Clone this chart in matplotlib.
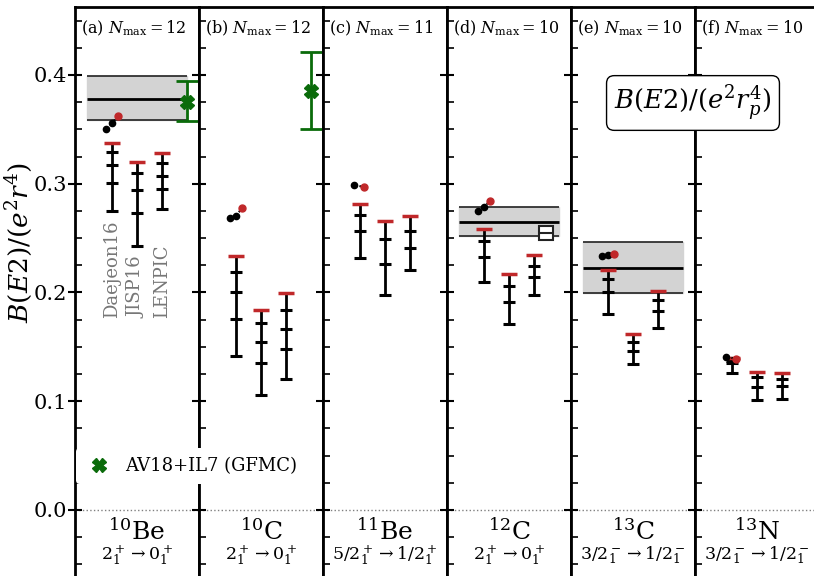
import matplotlib
matplotlib.use('Agg')
import matplotlib.pyplot as plt
from matplotlib.lines import Line2D
from matplotlib.ticker import MultipleLocator

plt.rcParams['font.family'] = 'DejaVu Serif'
plt.rcParams['mathtext.fontset'] = 'dejavuserif'

letters = ['a', 'b', 'c', 'd', 'e', 'f']
nmax = [12, 12, 11, 10, 10, 10]
nuclei = [r'$^{10}$Be', r'$^{10}$C', r'$^{11}$Be', r'$^{12}$C', r'$^{13}$C', r'$^{13}$N']
transitions = [r'$2^+_1\rightarrow 0^+_1$', r'$2^+_1\rightarrow 0^+_1$',
               r'$5/2^+_1\rightarrow 1/2^+_1$', r'$2^+_1\rightarrow 0^+_1$',
               r'$3/2^-_1\rightarrow 1/2^-_1$', r'$3/2^-_1\rightarrow 1/2^-_1$']

# first value = highest Nmax (red cap), then lower ones, last = bottom of bar
daejeon16 = [
    [0.3378, 0.3289, 0.3170, 0.3004, 0.2752],
    [0.2336, 0.2191, 0.2007, 0.1756, 0.1416],
    [0.2814, 0.2716, 0.2562, 0.2317],
    [0.2581, 0.2474, 0.2324, 0.2094],
    [0.2204, 0.2124, 0.2002, 0.1802],
    [0.1395, 0.1368, 0.1350, 0.1257],
]
jisp16 = [
    [0.3203, 0.3096, 0.2943, 0.2728, 0.2431],
    [0.1839, 0.1717, 0.1548, 0.1354, 0.1057],
    [0.2655, 0.2489, 0.2265, 0.1977],
    [0.2170, 0.2060, 0.1913, 0.1710],
    [0.1615, 0.1542, 0.1459, 0.1340],
    [0.1266, 0.1220, 0.1134, 0.1014],
]
lenpic = [
    [0.3280, 0.3188, 0.3074, 0.2949, 0.2765],
    [0.1992, 0.1839, 0.1661, 0.1480, 0.1205],
    [0.2700, 0.2566, 0.2412, 0.2204],
    [0.2342, 0.2247, 0.2143, 0.1974],
    [0.2011, 0.1928, 0.1830, 0.1674],
    [0.1257, 0.1202, 0.1137, 0.1023],
]

# ratio-based estimates (black ... red)
ratio_y = [
    [0.3501, 0.3556, 0.3623],
    [0.2688, 0.2700, 0.2780],
    [0.2989, 0.2970],
    [0.2749, 0.2789, 0.2841],
    [0.2339, 0.2348, 0.2357],
    [0.1410, 0.1391],
]

# experiment: center, low, high
exp_val = [0.3776, None, None, 0.2651, 0.2228, None]
exp_lo = [0.3586, None, None, 0.2520, 0.1992, None]
exp_hi = [0.3994, None, None, 0.2783, 0.2461, None]

gfmc_val = [0.3754, 0.3856, None, None, None, None]
gfmc_lo = [0.3580, 0.3501, None, None, None, None]
gfmc_hi = [0.3948, 0.4214, None, None, None, None]

other_val = [None, None, None, 0.2550, None, None]

interactions = ['Daejeon16', 'JISP16', 'LENPIC']
green = '#0a6b0a'
red = '#c0282a'

fig, axes = plt.subplots(1, 6, figsize=(8.14, 5.76), dpi=100, sharey=True)
fig.subplots_adjust(left=75/814, right=819/814, top=1-7/576, bottom=0.0, wspace=0)

for i, ax in enumerate(axes):
    ax.set_xlim(0, 5)
    ax.set_ylim(-0.0607, 0.4625)
    for s in ax.spines.values():
        s.set_linewidth(2)
    ax.spines['bottom'].set_visible(False)
    ax.set_xticks([])
    ax.yaxis.set_major_locator(MultipleLocator(0.1))
    ax.yaxis.set_minor_locator(MultipleLocator(0.025))
    ax.tick_params(axis='y', which='major', direction='inout', length=10, width=1.5,
                   labelsize=15, pad=1, labelleft=(i == 0), right=False)
    ax.tick_params(axis='y', which='minor', direction='in', length=5, width=1.2, right=False)
    ax.axhline(0, color='gray', ls=':', lw=1, zorder=0)

    # experiment band
    if exp_val[i] is not None:
        ax.fill_between([0.5, 4.5], exp_lo[i], exp_hi[i], color='#d3d3d3', zorder=1)
        ax.hlines([exp_lo[i], exp_hi[i]], 0.5, 4.5, color='#222222', lw=1.2, zorder=2)
        ax.hlines(exp_val[i], 0.5, 4.5, color='black', lw=2, zorder=2)

    # calculations
    for k, vals in enumerate([daejeon16[i], jisp16[i], lenpic[i]]):
        x = 1.5 + k
        ax.plot([x, x], [min(vals), max(vals)], color='black', lw=2, zorder=3)
        ax.plot([x]*(len(vals)-1), vals[1:], ls='none', marker='_', ms=8.5, mew=2.2,
                color='black', zorder=3)
        ax.plot(x, vals[0], marker='_', ms=11, mew=2.5, color=red, zorder=4)

    # ratio estimates
    ry = ratio_y[i]
    if len(ry) == 3:
        rx = [1.25, 1.48, 1.75]
    else:
        rx = [1.25, 1.65]
    ax.plot(rx, ry, ls=':', color='black', lw=1.5, zorder=4)
    ax.plot(rx[:-1], ry[:-1], ls='none', marker='o', ms=4.5, color='black', zorder=5)
    if len(ry) == 3:
        ax.plot(rx[1], ry[1], marker='o', ms=2.5, color='black', zorder=5)
    ax.plot(rx[-1], ry[-1], marker='o', ms=5, color=red, zorder=5)

    # GFMC
    if gfmc_val[i] is not None:
        ax.errorbar(4.5, gfmc_val[i],
                    yerr=[[gfmc_val[i]-gfmc_lo[i]], [gfmc_hi[i]-gfmc_val[i]]],
                    fmt='X', color=green, ms=10, capsize=8, elinewidth=2, capthick=2,
                    zorder=6)

    if other_val[i] is not None:
        ax.plot(4.0, other_val[i], marker='s', ms=10, mfc='white', mec='#222222', mew=1.5, zorder=6)
        ax.plot(4.0, other_val[i], marker='_', ms=10, color='#222222', mew=1.5, zorder=7)

    ax.text(0.25, 0.4432, '(%s) $N_{\\max}=%d$' % (letters[i], nmax[i]),
            ha='left', va='center', fontsize=11.5)
    ax.text(2.5, -0.0276, nuclei[i], ha='center', va='baseline', fontsize=18)
    ax.text(2.5, -0.0414, transitions[i], ha='center', va='center', fontsize=12.5)

for k, name in enumerate(interactions):
    axes[0].text(1.5 + k, 0.1766, name, rotation=90, ha='center', va='bottom',
                 fontsize=13, color='#777777')

fig.text(19/814, 1-242/576, r'$B(E2)/(e^2r^4)$', rotation=90, ha='center', va='center',
         fontsize=19)
fig.text(693/814, 1-103/576, r'$B(E2)/(e^2r_p^4)$', ha='center', va='center', fontsize=18.5,
         bbox=dict(boxstyle='round,pad=0.3', fc='white', ec='black', lw=1))

handle = Line2D([], [], ls='none', marker='X', ms=10, color=green)
leg = fig.legend([handle], ['AV18+IL7 (GFMC)'], loc='center left',
                 bbox_to_anchor=(76/814, 1-466/576), fontsize=13, frameon=True,
                 handlelength=1.6, handletextpad=0.6, borderpad=0.5, borderaxespad=0)
leg.get_frame().set_edgecolor('none')
leg.get_frame().set_facecolor('white')
leg.get_frame().set_alpha(1)

fig.savefig('out.png', dpi=100)
